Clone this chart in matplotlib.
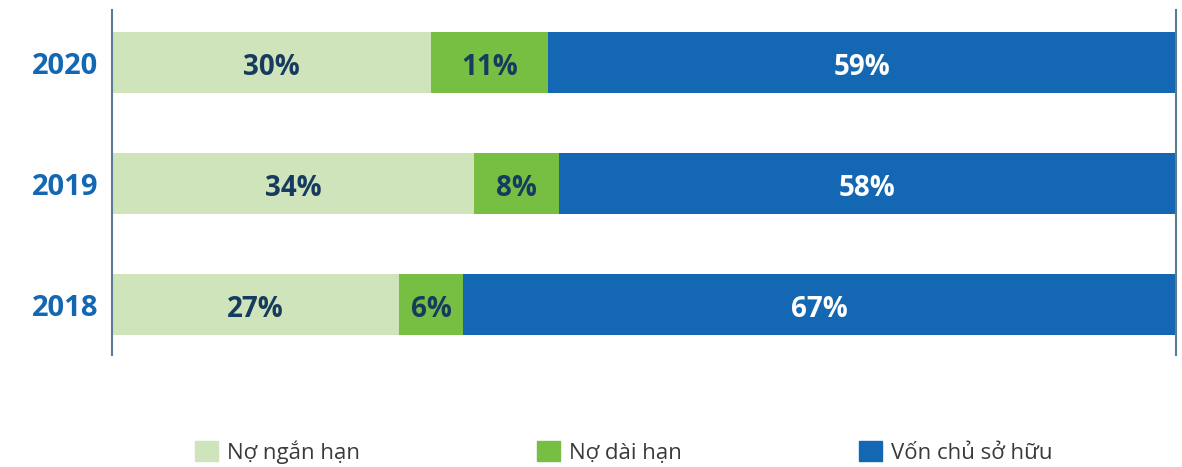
import matplotlib.pyplot as plt
from matplotlib.patches import Patch
from matplotlib.transforms import ScaledTranslation

years = ['2018', '2019', '2020']
no_ngan_han = [27, 34, 30]
no_dai_han = [6, 8, 11]
von_chu_so_huu = [67, 58, 59]
series_names = ['Nợ ngắn hạn', 'Nợ dài hạn', 'Vốn chủ sở hữu']

colors = ['#CFE4BA', '#76BF43', '#1467B2']
label_colors = ['#173B5E', '#173B5E', 'white']

plt.rcParams['font.family'] = ['Open Sans', 'DejaVu Sans']

fig = plt.figure(figsize=(11.82, 4.67), dpi=100)
ax = fig.add_axes([112 / 1182, 1 - 355 / 467, 1064 / 1182, 345 / 467])

# nudge texts a few pixels down
shift_bar = ScaledTranslation(0, -1 / 100, fig.dpi_scale_trans)
shift_year = ScaledTranslation(0, -3 / 100, fig.dpi_scale_trans)

ypos = list(range(len(years)))
left = [0] * len(years)
for vals, col, lcol in zip([no_ngan_han, no_dai_han, von_chu_so_huu], colors, label_colors):
    bars = ax.barh(ypos, vals, left=left, height=0.504, color=col, edgecolor='none')
    for b, v in zip(bars, vals):
        ax.text(b.get_x() + b.get_width() / 2, b.get_y() + b.get_height() / 2, f'{v}%',
                ha='center', va='center_baseline', color=lcol, fontsize=20, fontweight='bold',
                transform=ax.transData + shift_bar)
    left = [l + v for l, v in zip(left, vals)]

ax.set_xlim(0, 100)
ax.set_ylim(-0.417, 2.434)
ax.set_yticks(ypos)
ax.set_yticklabels(years, fontsize=21, fontweight='bold', color='#1467B2')
for lab in ax.get_yticklabels():
    lab.set_transform(lab.get_transform() + shift_year)
ax.tick_params(axis='y', length=0, pad=10)
ax.set_xticks([])
for s in ['top', 'bottom']:
    ax.spines[s].set_visible(False)
for s in ['left', 'right']:
    ax.spines[s].set_color('#5C7A96')
    ax.spines[s].set_linewidth(1.5)

handles = [Patch(color=c, label=n) for c, n in zip(colors, series_names)]
fig.legend(handles=handles, loc='center left', bbox_to_anchor=(195 / 1182, 1 - 452 / 467),
           ncol=3, frameon=False, fontsize=16, handlelength=1.05, handleheight=1.05,
           handletextpad=0.4, columnspacing=7.95, labelcolor='#3A3A3A', borderaxespad=0,
           borderpad=0)

fig.savefig('out.png', dpi=100)
